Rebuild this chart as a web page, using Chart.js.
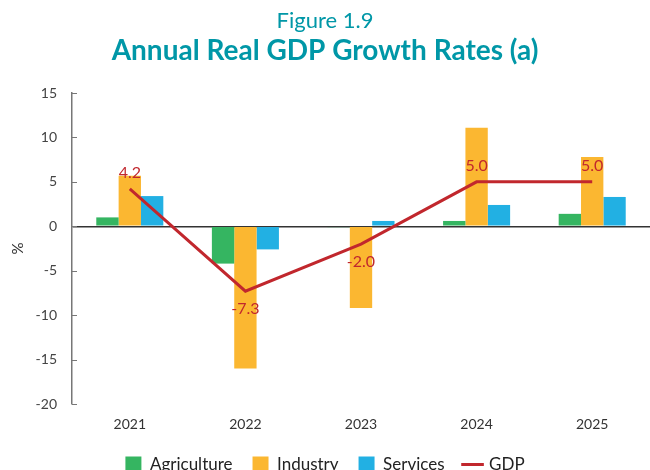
<!DOCTYPE html>
<html lang="en">
<head>
  <meta charset="UTF-8">
  <title>Annual Real GDP Growth Rates</title>
  <style>
    html, body { margin: 0; padding: 0; background: #fff; overflow: hidden; }
    .wrap { width: 650px; height: 470px; }
  </style>
  <script src="https://cdn.jsdelivr.net/npm/chart.js"></script>
</head>
<body>
  <div class="wrap"><canvas id="gdpChart" width="650" height="470"></canvas></div>
  <script>
    // values
    const years = ['2021', '2022', '2023', '2024', '2025'];
    const agriculture = [1.0, -4.2, -0.1, 0.6, 1.4];
    const industry = [5.7, -16.0, -9.2, 11.1, 7.8];
    const services = [3.4, -2.6, 0.6, 2.4, 3.3];
    const gdp = [4.2, -7.3, -2.0, 5.0, 5.0];
    const yTicks = [15, 10, 5, 0, -5, -10, -15, -20];

    const FONT = "'Lato', 'DejaVu Sans', sans-serif";
    const TEAL = '#0097a7';
    const RED = '#c1272d';

    // little tick marks pointing into the plot, plus the GDP value labels
    const extras = {
      id: 'extras',
      afterDraw(chart) {
        const c = chart.ctx;
        const y = chart.scales.y;
        const left = chart.chartArea.left;
        c.save();
        c.strokeStyle = '#777';
        c.lineWidth = 1;
        y.ticks.forEach(t => {
          const py = Math.round(y.getPixelForValue(t.value)) + 0.5;
          c.beginPath();
          c.moveTo(left, py);
          c.lineTo(left + 5, py);
          c.stroke();
        });
        const meta = chart.getDatasetMeta(3);
        c.fillStyle = RED;
        c.font = '16px ' + FONT;
        c.textAlign = 'center';
        c.textBaseline = 'middle';
        meta.data.forEach((pt, i) => {
          const v = gdp[i];
          const off = v >= 0 ? -16 : 18;
          c.fillText(v.toFixed(1), pt.x, pt.y + off);
        });
        c.restore();
      }
    };

    new Chart(document.getElementById('gdpChart'), {
      type: 'bar',
      data: {
        labels: years,
        datasets: [
          { label: 'Agriculture', data: agriculture, backgroundColor: '#35b561', order: 1 },
          { label: 'Industry', data: industry, backgroundColor: '#fbb731', order: 1 },
          { label: 'Services', data: services, backgroundColor: '#22b0e3', order: 1 },
          {
            type: 'line', label: 'GDP', data: gdp, borderColor: RED, backgroundColor: RED,
            borderWidth: 3, pointRadius: 0, pointStyle: 'line', tension: 0, order: 0
          }
        ]
      },
      options: {
        responsive: false,
        animation: false,
        layout: { padding: { left: 0, right: 0, top: 0, bottom: -13 } },
        datasets: {
          bar: { barPercentage: 1, categoryPercentage: 0.58, borderWidth: 0 }
        },
        plugins: {
          tooltip: { enabled: false },
          title: {
            display: true,
            text: 'Figure 1.9',
            color: TEAL,
            font: { family: FONT, size: 22, weight: 'normal' },
            padding: { top: 8, bottom: 0 }
          },
          subtitle: {
            display: true,
            text: 'Annual Real GDP Growth Rates (a)',
            color: TEAL,
            font: { family: FONT, size: 28, weight: 'bold' },
            padding: { top: 0, bottom: 25 }
          },
          legend: {
            position: 'bottom',
            labels: {
              usePointStyle: true,
              boxWidth: 16,
              boxHeight: 16,
              padding: 20,
              color: '#222',
              font: { family: FONT, size: 17 },
              sort: (a, b) => a.datasetIndex - b.datasetIndex,
              generateLabels(chart) {
                const items = Chart.defaults.plugins.legend.labels.generateLabels(chart);
                items.forEach(it => {
                  if (it.datasetIndex < 3) it.pointStyle = 'rect';
                  else { it.lineWidth = 3; it.strokeStyle = RED; }
                });
                return items;
              }
            }
          }
        },
        scales: {
          x: {
            grid: { display: false },
            border: { display: false },
            afterFit(axis) {
              axis.height = 32;
            },
            ticks: { color: '#333', font: { family: FONT, size: 14 }, padding: 4 }
          },
          y: {
            min: -20,
            max: 15,
            afterBuildTicks(axis) {
              axis.ticks = yTicks.map(v => ({ value: v }));
            },
            afterFit(axis) {
              axis.width = 72;
            },
            grid: {
              drawTicks: false,
              color: ctx => (ctx.tick && ctx.tick.value === 0 ? '#333' : 'rgba(0,0,0,0)'),
              lineWidth: 1.5
            },
            border: { display: true, color: '#777', width: 1.5 },
            ticks: { color: '#444', font: { family: FONT, size: 14 }, padding: 15 },
            title: { display: true, text: '%', color: '#333', font: { family: FONT, size: 15 }, padding: { top: 9, bottom: 0 } }
          }
        }
      },
      plugins: [extras]
    });
  </script>
</body>
</html>
